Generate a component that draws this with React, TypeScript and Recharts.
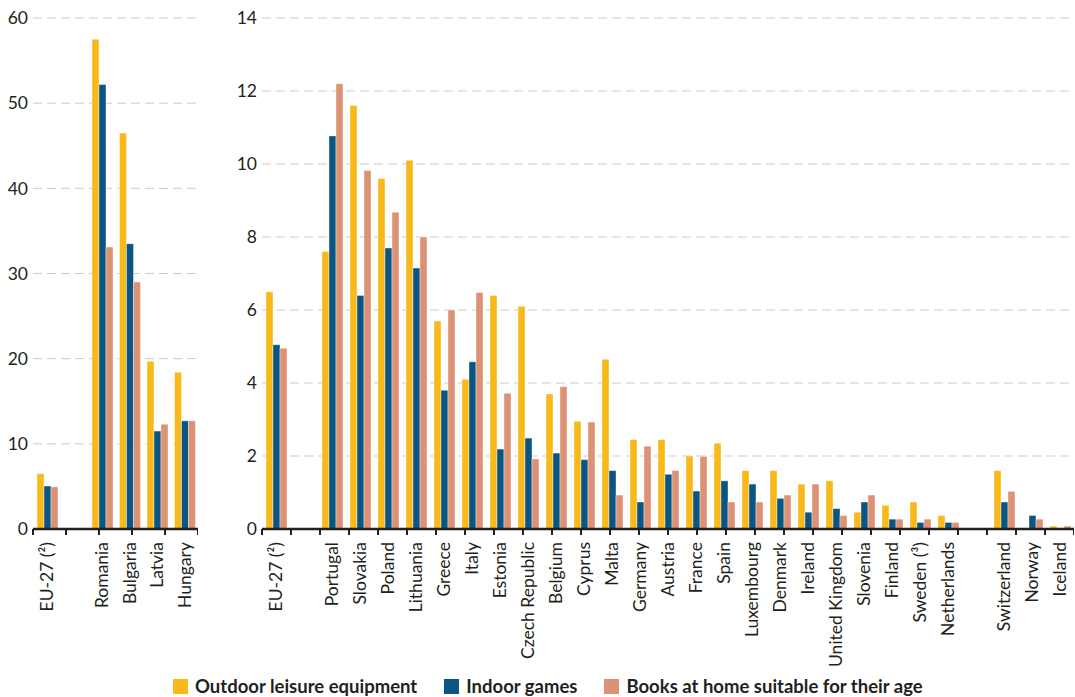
import React from "react";
import { BarChart, Bar, XAxis, YAxis, CartesianGrid } from "recharts";

// ---- Data ----
const seriesNames = ["Outdoor leisure equipment", "Indoor games", "Books at home suitable for their age"];
const seriesColors = ["#F9B91A", "#0A5581", "#DC9274"];

const categoriesLeft = ["EU-27 (²)", "", "Romania", "Bulgaria", "Latvia", "Hungary"];
const outdoorLeft = [6.5, null, 57.5, 46.5, 19.7, 18.4];
const indoorLeft = [5.05, null, 52.2, 33.5, 11.5, 12.7];
const booksLeft = [4.95, null, 33.1, 29.0, 12.3, 12.7];
const yTicksLeft = [0, 10, 20, 30, 40, 50, 60];

const categoriesRight = [
  "EU-27 (²)", "", "Portugal", "Slovakia", "Poland", "Lithuania", "Greece", "Italy", "Estonia",
  "Czech Republic", "Belgium", "Cyprus", "Malta", "Germany", "Austria", "France", "Spain",
  "Luxembourg", "Denmark", "Ireland", "United Kingdom", "Slovenia", "Finland", "Sweden (³)",
  "Netherlands", "", "Switzerland", "Norway", "Iceland",
];
const outdoorRight = [6.5, null, 7.6, 11.6, 9.6, 10.1, 5.7, 4.1, 6.4, 6.1, 3.7, 2.95, 4.65, 2.45, 2.45, 2.0, 2.35, 1.6, 1.6, 1.23, 1.32, 0.46, 0.65, 0.74, 0.37, null, 1.6, 0, 0.08];
const indoorRight = [5.05, null, 10.77, 6.4, 7.7, 7.15, 3.8, 4.58, 2.19, 2.49, 2.08, 1.9, 1.6, 0.74, 1.5, 1.04, 1.32, 1.23, 0.84, 0.46, 0.56, 0.74, 0.27, 0.18, 0.18, null, 0.74, 0.37, 0];
const booksRight = [4.95, null, 12.2, 9.82, 8.68, 8.0, 6.0, 6.48, 3.72, 1.92, 3.9, 2.93, 0.93, 2.27, 1.6, 1.99, 0.74, 0.74, 0.93, 1.23, 0.37, 0.93, 0.27, 0.27, 0.18, null, 1.03, 0.27, 0.08];
const yTicksRight = [0, 2, 4, 6, 8, 10, 12, 14];

const buildRows = (cats: string[], a: (number | null)[], b: (number | null)[], c: (number | null)[]) =>
  cats.map((name, i) => ({ name, outdoor: a[i], indoor: b[i], books: c[i] }));

const dataLeft = buildRows(categoriesLeft, outdoorLeft, indoorLeft, booksLeft);
const dataRight = buildRows(categoriesRight, outdoorRight, indoorRight, booksRight);

const FONT = "Lato, 'Open Sans', sans-serif";
const TEXT = "#231F20";

const RotatedTick = (props: any) => {
  const { x, y, payload } = props;
  return (
    <text
      x={x}
      y={y}
      transform={`rotate(-90, ${x}, ${y})`}
      textAnchor="end"
      dy="0.36em"
      fontFamily={FONT}
      fontSize={17.5}
      fill={TEXT}
    >
      {payload.value}
    </text>
  );
};

const YTick = (props: any) => {
  const { x, y, payload } = props;
  return (
    <text x={x} y={y} textAnchor="end" dy="0.36em" fontFamily={FONT} fontSize={17.5} fill={TEXT}>
      {payload.value}
    </text>
  );
};

const EmptyTick = () => <g />;

const seriesKeys = ["outdoor", "indoor", "books"];

const Panel = ({ data, cats, yTicks, yMax, width, marginLeft, yWidth }: any) => {
  const boundaryTicks = cats.map((_: string, i: number) => i).concat([cats.length]);
  return (
    <BarChart
      width={width}
      height={697}
      data={data}
      margin={{ top: 18, right: 0, left: marginLeft, bottom: 0 }}
      barGap={0}
      barCategoryGap={4}
    >
      <CartesianGrid xAxisId="cat" vertical={false} stroke="#CBCBCB" strokeDasharray="9 5" />
      <XAxis
        xAxisId="a_ticks"
        type="number"
        domain={[0, cats.length]}
        ticks={boundaryTicks}
        interval={0}
        allowDataOverflow
        tick={<EmptyTick />}
        tickSize={6}
        height={1}
        axisLine={{ stroke: TEXT, strokeWidth: 2.5 }}
        tickLine={{ stroke: TEXT, strokeWidth: 2 }}
      />
      <XAxis
        xAxisId="cat"
        dataKey="name"
        type="category"
        interval={0}
        axisLine={false}
        tickLine={false}
        tickSize={0}
        tickMargin={12}
        height={167}
        tick={<RotatedTick />}
      />
      <YAxis
        domain={[0, yMax]}
        ticks={yTicks}
        width={yWidth}
        axisLine={false}
        tickLine={false}
        tickSize={0}
        tickMargin={5}
        tick={<YTick />}
      />
      {seriesKeys.map((k, i) => (
        <Bar
          key={k}
          xAxisId="cat"
          dataKey={k}
          name={seriesNames[i]}
          fill={seriesColors[i]}
          stroke="#ffffff"
          strokeWidth={0.4}
          isAnimationActive={false}
        />
      ))}
    </BarChart>
  );
};

export default function App() {
  return (
    <div style={{ position: "absolute", left: 0, top: 0, width: 1075, height: 697, background: "#fff", fontFamily: FONT }}>
      <div style={{ position: "absolute", left: 0, top: 0 }}>
        <Panel data={dataRight} cats={categoriesRight} yTicks={yTicksRight} yMax={14} width={1074} marginLeft={230} yWidth={32} />
      </div>
      <div style={{ position: "absolute", left: 0, top: 0 }}>
        <Panel data={dataLeft} cats={categoriesLeft} yTicks={yTicksLeft} yMax={60} width={198} marginLeft={0} yWidth={33} />
      </div>
      <div
        style={{
          position: "absolute",
          left: 173,
          top: 676,
          display: "flex",
          alignItems: "center",
          fontFamily: FONT,
          fontWeight: 700,
          fontSize: 18.5,
          color: TEXT,
          lineHeight: "20px",
          whiteSpace: "nowrap",
        }}
      >
        {seriesNames.map((n, i) => (
          <div key={n} style={{ display: "flex", alignItems: "center", marginRight: 27 }}>
            <span style={{ display: "inline-block", width: 15, height: 15, background: seriesColors[i], marginRight: 7 }} />
            <span>{n}</span>
          </div>
        ))}
      </div>
    </div>
  );
}
